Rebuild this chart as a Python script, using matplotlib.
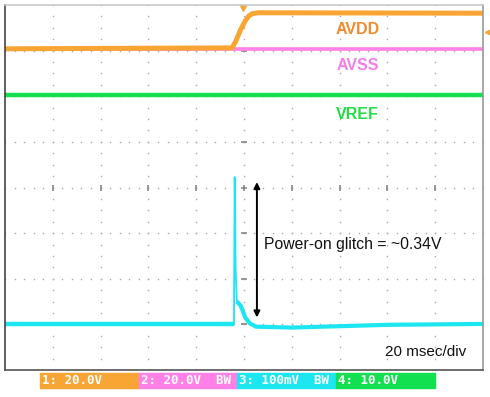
import numpy as np
import matplotlib.pyplot as plt

# Scope traces: time in ms (20 ms/div, 10 div), level in divisions (8 div)
t_avdd = [0, 95.0, 96.5, 98.5, 100.5, 102.0, 103.5, 106.0, 200]
v_avdd = [7.04, 7.06, 7.20, 7.45, 7.65, 7.76, 7.81, 7.83, 7.82]

t_avss = [0, 200]
v_avss = [7.03, 7.03]

t_vref = [0, 200]
v_vref = [6.02, 6.02]

t_glitch = [0, 95.8, 96.1, 96.5, 97.0, 98.5, 99.5, 100.5, 102.5, 105.0, 120.0, 160.0, 200]
v_glitch = [1.01, 1.01, 4.23, 2.20, 1.50, 1.42, 1.30, 1.15, 1.02, 0.95, 0.93, 0.99, 1.01]

trace_names = ['AVDD', 'AVSS', 'VREF']
channel_labels = ['1: 20.0V', '2: 20.0V  BW', '3: 100mV  BW', '4: 10.0V']

c_orange = '#F9A534'
c_magenta = '#FF80E6'
c_cyan = '#1CE6F0'
c_green = '#12E050'

plt.rcParams['font.family'] = ['Liberation Sans', 'DejaVu Sans']

fig = plt.figure(figsize=(4.9, 3.97), dpi=100)
ax = fig.add_axes([5 / 490, 27 / 397, 478 / 490, 365 / 397])
ax.set_xlim(0, 200)
ax.set_ylim(0, 8)
ax.set_xticks([])
ax.set_yticks([])

# frame
ax.spines['left'].set_color('#444444')
ax.spines['bottom'].set_color('#555555')
ax.spines['top'].set_color('#c8c8c8')
ax.spines['right'].set_color('#999999')
for s in ax.spines.values():
    s.set_linewidth(1.2)

# dotted scope graticule
gc = '#a8a8a8'
for i in range(1, 10):
    yy = np.arange(0, 8.01, 0.25)
    ax.plot(np.full_like(yy, i * 20), yy, ls='none', marker='s', ms=1.0, color=gc, mec='none')
for j in range(1, 8):
    xx = np.arange(0, 200.1, 4)
    ax.plot(xx, np.full_like(xx, j), ls='none', marker='s', ms=1.0, color=gc, mec='none')
# centre line crossings
yy = np.arange(1, 8)
ax.plot(np.full(7, 100), yy, ls='none', marker='_', ms=5, mew=1.2, color='#888888')
xx = np.arange(20, 200, 20)
ax.plot(xx, np.full(9, 4), ls='none', marker='|', ms=5, mew=1.2, color='#888888')

# traces
ax.plot(t_avss, v_avss, color=c_magenta, lw=2.6, solid_capstyle='butt')
ax.plot(t_avdd, v_avdd, color=c_orange, lw=3.6, solid_capstyle='butt')
ax.plot(t_vref, v_vref, color=c_green, lw=3.2, solid_capstyle='butt')
# spike is a thin trace, the settled parts look thicker
ax.plot(t_glitch, v_glitch, color=c_cyan, lw=1.3, solid_joinstyle='round')
ax.plot(t_glitch[:2], v_glitch[:2], color=c_cyan, lw=3.2, solid_capstyle='butt')
ax.plot(t_glitch[4:], v_glitch[4:], color=c_cyan, lw=3.0, solid_capstyle='butt',
        solid_joinstyle='round')

# trigger marker
ax.plot([99.6], [7.93], marker='v', ms=4, color=c_orange, clip_on=False)
ax.plot([201.5], [7.4], marker='<', ms=3, color=c_orange, clip_on=False)

# trace names
label_pos = [(147.5, 7.46, '#F58A2C'), (147.5, 6.67, '#F57FE6'), (147.5, 5.59, '#22DD44')]
for name, (x, y, c) in zip(trace_names, label_pos):
    ax.text(x, y, name, color=c, fontsize=11.5, fontweight='bold', ha='center', va='center')

# glitch arrow and annotation
ax.annotate('', xy=(105.4, 4.18), xytext=(105.4, 1.09),
            arrowprops=dict(arrowstyle='<|-|>', color='black', lw=1.4, mutation_scale=9))
ax.text(108.3, 2.75, 'Power-on glitch = ~0.34V', fontsize=11.3, color='#111111',
        ha='left', va='center')
ax.text(193, 0.4, '20 msec/div', fontsize=11, color='#111111', ha='right', va='center')

# channel bar below the screen
bar_colors = [c_orange, c_magenta, c_cyan, c_green]
x0 = 40
w = 98.7
for k, (lab, c) in enumerate(zip(channel_labels, bar_colors)):
    left = (x0 + k * w) / 490
    fig.patches.append(plt.Rectangle((left, (397 - 388) / 397), w / 490, 15 / 397,
                                     transform=fig.transFigure, color=c, zorder=0))
    fig.text(left + 2 / 490, (397 - 380.5) / 397, lab, color='white', fontsize=9,
             fontweight='bold', family='DejaVu Sans Mono', ha='left', va='center')

fig.savefig('out.png', dpi=100)
